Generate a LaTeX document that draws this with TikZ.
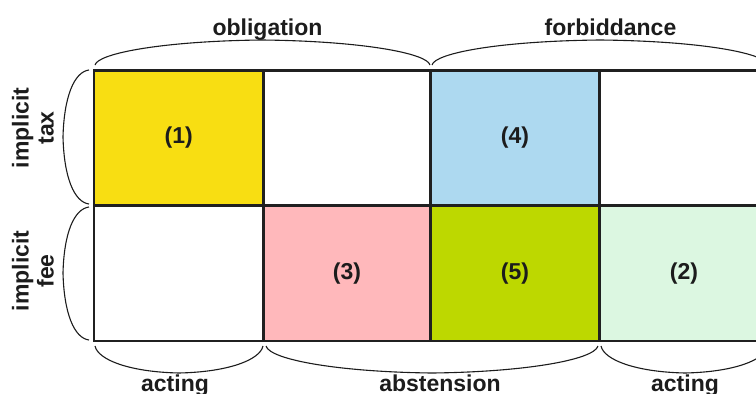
\documentclass[tikz,border=0pt]{standalone}
\usepackage{fontspec}
\setmainfont{Liberation Sans}
\definecolor{ink}{RGB}{28,28,28}
\definecolor{gridline}{RGB}{32,32,32}
\definecolor{cyellow}{RGB}{248,222,18}
\definecolor{cblue}{RGB}{173,217,240}
\definecolor{cpink}{RGB}{255,184,187}
\definecolor{colive}{RGB}{189,216,0}
\definecolor{cmint}{RGB}{220,247,225}
\begin{document}
\begin{tikzpicture}[x=1pt,y=-1pt,
  txt/.style={font=\bfseries\fontsize{23}{25}\selectfont, text=ink, inner sep=0pt},
  cell/.style={txt, draw=gridline, line width=2.4pt, minimum height=135pt,
               inner sep=0pt, outer sep=0pt},
  brace/.style={draw=ink, line width=1.1pt}]
\useasboundingbox (0,0) rectangle (756,394);
\clip (0,0) rectangle (756,394);

% the 2x4 table of cells
\node[cell, fill=cyellow, minimum width=169.5pt] (c11) at (178.75,138) {(1)};
\node[cell, fill=white,   minimum width=167pt]   (c12) at (347,138) {};
\node[cell, fill=cblue,   minimum width=169pt]   (c13) at (515,138) {(4)};
\node[cell, fill=white,   minimum width=169pt]   (c14) at (684,138) {};
\node[cell, fill=white,   minimum width=169.5pt] (c21) at (178.75,273.25) {};
\node[cell, fill=cpink,   minimum width=167pt]   (c22) at (347,273.25) {(3)};
\node[cell, fill=colive,  minimum width=169pt]   (c23) at (515,273.25) {(5)};
\node[cell, fill=cmint,   minimum width=169pt]   (c24) at (684,273.25) {(2)};

% braces above
\draw[brace] (95,65) .. controls (98,53) and (165,41) .. (262,40)
             .. controls (360,41) and (427,53) .. (430,65);
\draw[brace] (432,65) .. controls (435,53) and (500,41) .. (600,40)
             .. controls (700,41) and (765,53) .. (768,65);
% braces below
\draw[brace] (95,346) .. controls (98,360) and (130,372) .. (179,373)
             .. controls (228,372) and (260,360) .. (263,346);
\draw[brace] (266,346) .. controls (270,360) and (340,372) .. (432,373)
             .. controls (524,372) and (594,360) .. (598,346);
\draw[brace] (601,346) .. controls (604,360) and (636,372) .. (685,373)
             .. controls (734,372) and (765,360) .. (768,346);
% braces on the left
\draw[brace] (89,70) .. controls (74,72) and (64,97) .. (63,137)
             .. controls (64,177) and (74,202) .. (89,204);
\draw[brace] (89,207) .. controls (74,209) and (64,233) .. (63,273)
             .. controls (64,313) and (74,338) .. (89,340);

% labels
\node[txt, anchor=base] (obl) at (267.5,35) {obligation};
\node[txt, anchor=base] (forb) at (610.5,35) {forbiddance};
\node[txt, anchor=base] (act1) at (175,391) {acting};
\node[txt, anchor=base] (abst) at (440,391) {abstension};
\node[txt, anchor=base] (act2) at (685,391) {acting};
\node[txt, rotate=90, align=center] (tax) at (33,128) {implicit\\tax};
\node[txt, rotate=90, align=center] (fee) at (33,271) {implicit\\fee};
\end{tikzpicture}
\end{document}
